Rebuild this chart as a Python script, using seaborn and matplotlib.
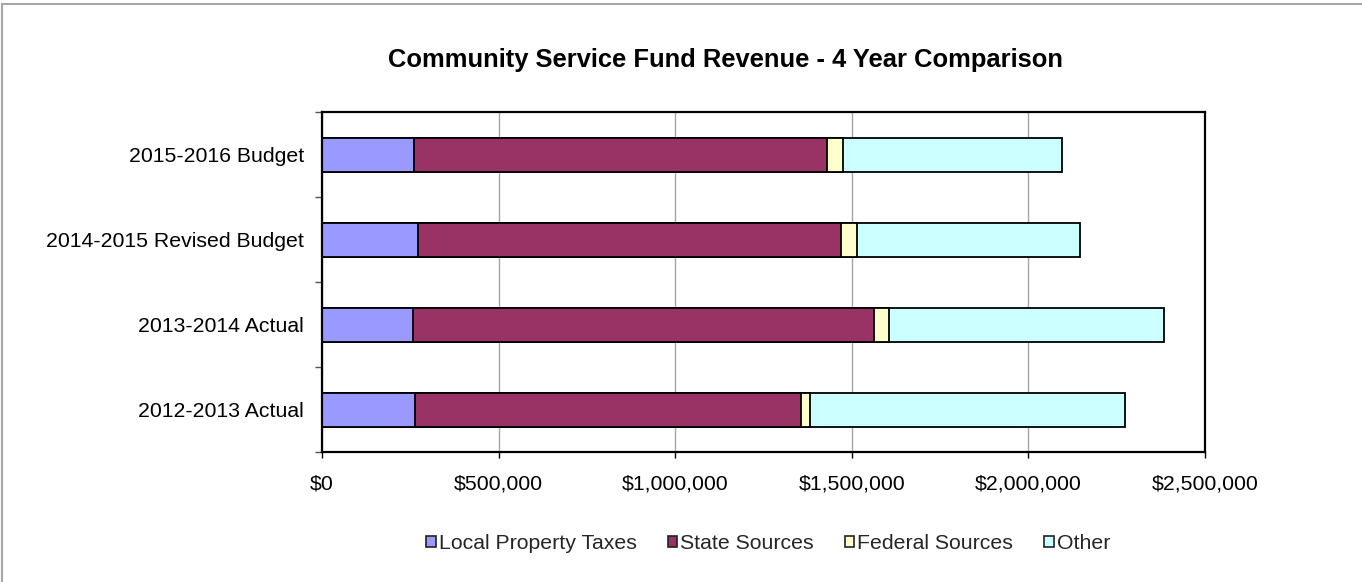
import matplotlib
matplotlib.use("Agg")
import matplotlib.pyplot as plt
from matplotlib.patches import Patch
from matplotlib.ticker import FuncFormatter, FixedLocator
from matplotlib.lines import Line2D
import seaborn as sns
import numpy as np
import pandas as pd

# Fiscal years, listed top to bottom
years = ["2015-2016 Budget", "2014-2015 Revised Budget", "2013-2014 Actual", "2012-2013 Actual"]

# Revenue by source (dollars)
local_property_taxes = [261000, 271000, 259000, 262000]
state_sources = [1169000, 1199000, 1303000, 1094000]
federal_sources = [44000, 45000, 42500, 27000]
other = [621000, 630000, 780000, 892000]

sources = ["Local Property Taxes", "State Sources", "Federal Sources", "Other"]
colors = ["#9999FF", "#993366", "#FFFFCC", "#CCFFFF"]
x_ticks = [0, 500000, 1000000, 1500000, 2000000, 2500000]

df = pd.DataFrame({
    "year": years,
    "Local Property Taxes": local_property_taxes,
    "State Sources": state_sources,
    "Federal Sources": federal_sources,
    "Other": other,
})

sns.set_theme(style="white")
plt.rcParams["font.family"] = ["Liberation Sans", "DejaVu Sans"]

fig = plt.figure(figsize=(13.62, 5.82), dpi=100)
ax = fig.add_axes([0.2364, 0.2229, 0.6483, 0.5841])

# Stacked bars: draw running totals from the largest down so each segment shows
cum = df[sources].cumsum(axis=1)
for src, col in reversed(list(zip(sources, colors))):
    sns.barplot(data=cum.assign(year=df["year"]), x=src, y="year", order=years,
                orient="h", color=col, width=0.4, edgecolor="black",
                linewidth=1.3, saturation=1, ax=ax)

ax.set_xlim(0, 2500000)
ax.set_ylim(len(years) - 0.5, -0.5)
ax.set_xlabel("")
ax.set_ylabel("")

ax.xaxis.set_major_locator(FixedLocator(x_ticks))
ax.xaxis.set_major_formatter(FuncFormatter(lambda v, p: "${:,.0f}".format(v)))
ax.grid(axis="x", color="#a6a6a6", linewidth=1)
ax.grid(axis="y", visible=False)
ax.set_axisbelow(True)

ax.tick_params(axis="x", which="major", bottom=True, length=4, width=1,
               color="black", pad=12, labelsize=15.3, labelcolor="black")
ax.tick_params(axis="y", which="major", left=True, length=0, pad=13,
               labelsize=15.3, labelcolor="black")
ax.yaxis.set_minor_locator(FixedLocator(np.arange(-0.5, len(years), 1.0)))
ax.tick_params(axis="y", which="minor", left=True, length=5, width=1, color="#555555")

for sp in ax.spines.values():
    sp.set_color("black")
    sp.set_linewidth(1.6)

fig.text(0.533, 0.897, "Community Service Fund Revenue - 4 Year Comparison",
         ha="center", va="center", fontsize=18.4, fontweight="bold", color="black")

handles = [Patch(facecolor=c, edgecolor="#222222", linewidth=1.2) for c in colors]
fig.legend(handles, sources, loc="center", bbox_to_anchor=(0.564, 0.066), ncol=4,
           frameon=False, fontsize=15.3, handlelength=0.45, handleheight=0.45,
           handletextpad=0.15, columnspacing=1.45, borderaxespad=0)

# Light frame along the top and left edges of the chart
fig.add_artist(Line2D([2 / 1362, 1], [1 - 4 / 582, 1 - 4 / 582], transform=fig.transFigure,
                      color="#a6a6a6", linewidth=1.5))
fig.add_artist(Line2D([2 / 1362, 2 / 1362], [0, 1 - 4 / 582], transform=fig.transFigure,
                      color="#a6a6a6", linewidth=1.5))

fig.savefig("out.png", dpi=100, facecolor="white")
